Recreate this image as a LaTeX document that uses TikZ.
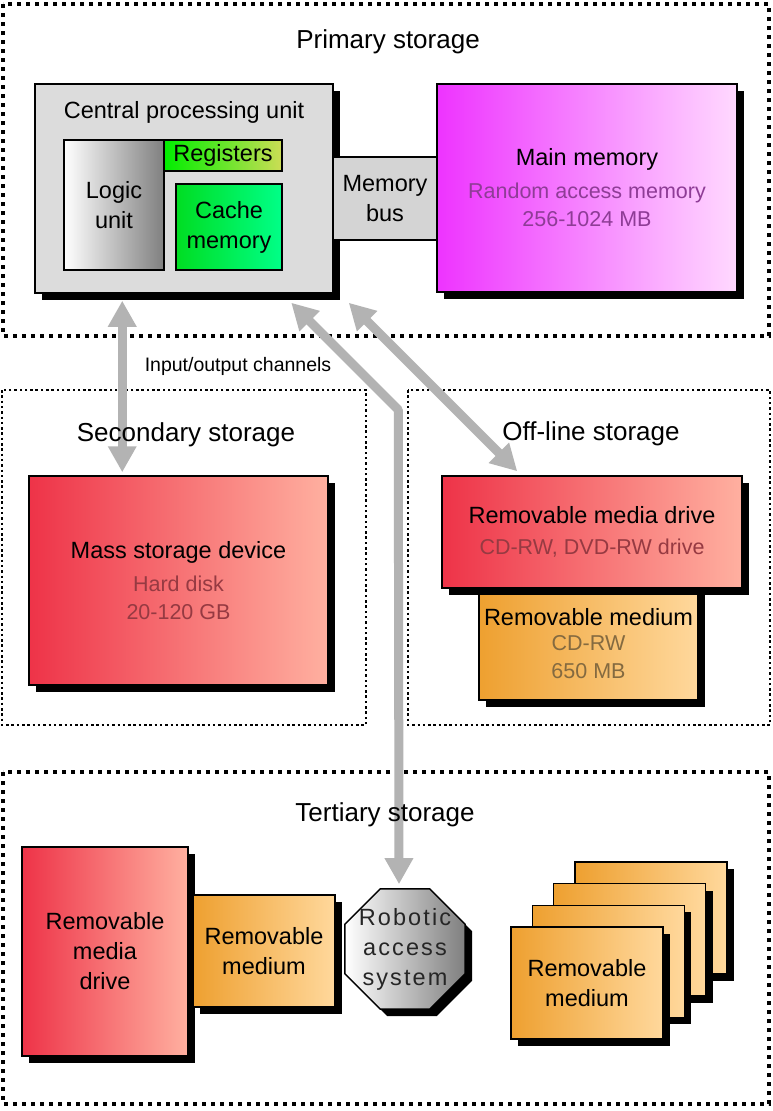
\documentclass[tikz,border=0pt]{standalone}
\usepackage{fontspec}
\setmainfont{Liberation Sans}
\usetikzlibrary{arrows.meta,shadows,shapes.geometric}

\definecolor{channelgray}{HTML}{B3B3B3}
\definecolor{cpugray}{HTML}{DCDCDC}
\definecolor{busgray}{HTML}{D4D4D4}
\definecolor{memleft}{HTML}{EE33FF}
\definecolor{memright}{HTML}{FFD9FF}
\definecolor{memtext}{HTML}{8E3C96}
\definecolor{driveleft}{HTML}{EE3348}
\definecolor{driveright}{HTML}{FFB0A0}
\definecolor{drivetext}{HTML}{963A42}
\definecolor{mediumleft}{HTML}{EEA030}
\definecolor{mediumright}{HTML}{FFD89C}
\definecolor{mediumtext}{HTML}{846A40}
\definecolor{regleft}{HTML}{00EE00}
\definecolor{regright}{HTML}{CCDD55}
\definecolor{cacheleft}{HTML}{00DD22}
\definecolor{cacheright}{HTML}{00FF88}

\pgfdeclarelayer{frames}
\pgfdeclarelayer{channels}
\pgfsetlayers{frames,channels,main}

\newcommand\labelfont{\fontsize{23.5}{30}\selectfont}
\newcommand\subfont{\fontsize{21.5}{30}\selectfont}
\newcommand\subline[2]{{\subfont\color{#1}#2}}

\tikzset{
    unit/.style={draw=black, line width=1.5pt, inner sep=0pt, align=center, font=\labelfont},
    shadowed/.style={drop shadow={shadow xshift=7pt, shadow yshift=-7pt, opacity=1, fill=black}},
    driveunit/.style={unit, shadowed, left color=driveleft, right color=driveright},
    mediumunit/.style={unit, shadowed, left color=mediumleft, right color=mediumright},
    storeframe/.style={line width=4pt, dash pattern=on 4pt off 5pt},
    subframe/.style={line width=2.5pt, dash pattern=on 2.5pt off 2.8pt},
    storetitle/.style={anchor=base, inner sep=0pt, font=\fontsize{26}{30}\selectfont},
    channel/.style={draw=channelgray, line width=9pt, line join=round,
        {Triangle[width=27pt,length=26pt]}-{Triangle[width=27pt,length=26pt]}},
}

\begin{document}
\begin{tikzpicture}[x=1pt,y=-1pt]
    \useasboundingbox (0,0) rectangle (772,1111);

    \begin{pgfonlayer}{frames}
        \fill[white] (0,0) rectangle (772,1111);
        \draw[storeframe] (3,4) rectangle (769,336);
        \draw[subframe] (2,390) rectangle (366,725);
        \draw[subframe] (408,390) rectangle (770,725);
        \draw[storeframe] (3,772) rectangle (769,1104);
    \end{pgfonlayer}

    \node[storetitle] (primary) at (388,48) {Primary storage};
    \node[storetitle] (secondary) at (186,441) {Secondary storage};
    \node[storetitle] (offline) at (591,440) {Off-line storage};
    \node[storetitle] (tertiary) at (385,821) {Tertiary storage};
    \node[anchor=base, inner sep=0pt, font=\fontsize{19.5}{24}\selectfont] (iochannels) at (238,371) {Input/output channels};

    \node[unit, shadowed, fill=cpugray, minimum width=298pt, minimum height=209pt,
        label={[anchor=north, inner sep=0pt, yshift=-18pt, font=\labelfont, name=cputitle]north:Central processing unit}]
        (cpu) at (184,188.5) {};
    \node[unit, left color=white, right color=gray, minimum width=100pt, minimum height=130pt] (logic) at (114,205) {Logic\\unit};
    \node[unit, left color=regleft, right color=regright, minimum width=118pt, minimum height=31pt] (regs) at (223,155.5) {Registers};
    \node[unit, left color=cacheleft, right color=cacheright, minimum width=106pt, minimum height=86pt] (cache) at (229,227) {Cache\\memory};
    \node[unit, fill=busgray, minimum width=104pt, minimum height=83pt] (bus) at (385,198.5) {Memory\\bus};
    \node[unit, shadowed, left color=memleft, right color=memright, minimum width=300pt, minimum height=208pt] (mainmem) at (587,188)
        {Main memory\\[3pt]\subline{memtext}{Random access memory}\\[-2pt]\subline{memtext}{256-1024 MB}};

    \node[driveunit, minimum width=299pt, minimum height=209pt] (mass) at (178.5,580.5)
        {Mass storage device\\[3pt]\subline{drivetext}{Hard disk}\\[-2pt]\subline{drivetext}{20-120 GB}};

    \node[mediumunit, minimum width=219pt, minimum height=112pt] (rmmedium) at (588.5,644)
        {Removable medium\\[-5pt]\subline{mediumtext}{CD-RW}\\[-2pt]\subline{mediumtext}{650 MB}};
    \node[driveunit, minimum width=300pt, minimum height=112pt] (rmdrive) at (592,532)
        {Removable media drive\\[1pt]\subline{drivetext}{CD-RW, DVD-RW drive}};

    \node[driveunit, minimum width=166pt, minimum height=209pt] (tdrive) at (105,951.5) {Removable\\media\\drive};
    \node[mediumunit, minimum width=142pt, minimum height=112pt] (tmedium) at (264,951) {Removable\\medium};
    \node[unit, shadowed, regular polygon, regular polygon sides=8, minimum size=130pt, inner sep=-10pt,
        left color=white, right color=gray, text=black!85, font=\labelfont\addfontfeature{LetterSpace=9}]
        (robot) at (405,949) {Robotic\\access\\system};

    \foreach \k [evaluate=\k as \kx using 587+21.3*\k, evaluate=\k as \ky using 983-21.7*\k] in {3,2,1}
        \node[mediumunit, minimum width=152pt, minimum height=112pt] (card\k) at (\kx,\ky) {};
    \node[mediumunit, minimum width=152pt, minimum height=112pt] (card0) at (587,983) {Removable\\medium};

    \begin{pgfonlayer}{channels}
        \draw[channel] ([xshift=88pt,yshift=-7pt]cpu.south west) -- ([xshift=94pt,yshift=3pt]mass.north west);
        \draw[channel] ([xshift=257pt,yshift=-9pt]cpu.south west) -- ++(107,107) -- ([xshift=-6pt,yshift=4pt]robot.north);
        \draw[channel] ([xshift=15pt,yshift=-9pt]cpu.south east) -- ([xshift=76pt,yshift=4pt]rmdrive.north west);
    \end{pgfonlayer}
\end{tikzpicture}
\end{document}
